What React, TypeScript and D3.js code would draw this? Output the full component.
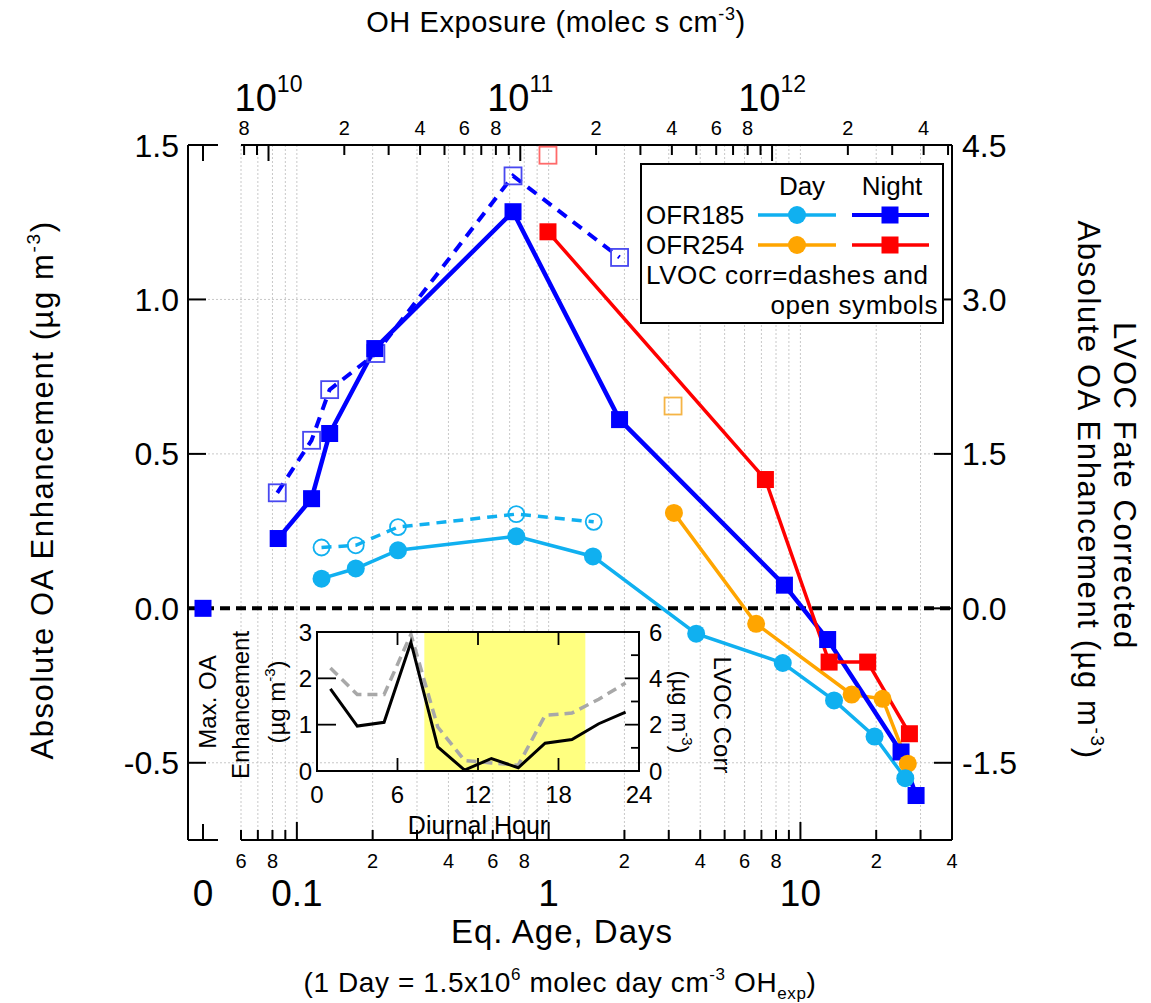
import React from "react";
import * as d3 from "d3";

const FONT = "Liberation Sans, Arial, Helvetica, sans-serif";

// 1 day of equivalent age in molec s cm^-3 (1.5e6 * 86400)
const DAY_EXP = 1.296e11;

// OFR185, night (solid squares)
const night185Days = [0.0843, 0.1144, 0.135, 0.204, 0.722, 1.913, 8.64, 12.83, 25.1, 28.8];
const night185 = [0.226, 0.355, 0.566, 0.841, 1.284, 0.611, 0.075, -0.101, -0.465, -0.606];
// OFR185, night, LVOC corrected (dashed, open squares)
const night185CorrDays = [0.0836, 0.1144, 0.135, 0.206, 0.722, 1.913];
const night185Corr = [0.374, 0.544, 0.708, 0.825, 1.4, 1.136];
// OFR185, day (solid circles)
const day185Days = [0.1253, 0.1714, 0.2522, 0.744, 1.5, 3.855, 8.51, 13.6, 19.7, 26.1];
const day185 = [0.096, 0.129, 0.188, 0.233, 0.168, -0.082, -0.177, -0.298, -0.415, -0.55];
// OFR185, day, LVOC corrected (dashed, open circles)
const day185CorrDays = [0.1253, 0.1714, 0.2522, 0.744, 1.51];
const day185Corr = [0.197, 0.204, 0.263, 0.305, 0.28];
// OFR254, day
const day254Days = [3.145, 6.67, 15.98, 21.2, 26.7];
const day254 = [0.309, -0.05, -0.279, -0.293, -0.503];
const day254CorrDays = [3.12];
const day254Corr = [0.655];
// OFR254, night
const night254Days = [0.994, 7.26, 13.0, 18.5, 27.1];
const night254 = [1.219, 0.417, -0.174, -0.174, -0.406];
const night254CorrDays = [0.994];
const night254Corr = [1.467];

// ambient point at age 0
const zeroValue = 0;

// left / right axis ticks
const leftTicks = [1.5, 1.0, 0.5, 0.0, -0.5];
const rightTicks = [4.5, 3.0, 1.5, 0.0, -1.5];

// inset: diurnal cycle
const hours = [1, 3, 5, 7, 9, 11, 13, 15, 17, 19, 21, 23];
const maxOA = [1.77, 0.97, 1.05, 2.78, 0.52, 0.02, 0.27, 0.07, 0.6, 0.68, 1.02, 1.27];
const lvocCorr = [4.45, 3.3, 3.3, 5.9, 1.9, 0.45, 0.35, 0.25, 2.4, 2.5, 3.1, 3.8];
const daylight = [8, 20];
const insetHourTicks = [0, 6, 12, 18, 24];
const insetLeftTicks = [0, 1, 2, 3];
const insetRightTicks = [0, 1, 2, 3, 4, 5, 6];

const C = {
  night185: "#0000ff",
  night185Open: "#4848f0",
  day185: "#10b0f0",
  day254: "#ffa500",
  day254Open: "#f5b445",
  night254: "#ff0000",
  night254Open: "#ff6a6a",
};

const left = 188;
const right = 952;
const top = 145;
const bottom = 840;
const zeroX = 203;

const x = d3.scaleLog().domain([0.06, 40]).range([241, right]);
const xTop = d3.scaleLog().domain([0.06 * DAY_EXP, 40 * DAY_EXP]).range([241, right]);
const y = d3.scaleLinear().domain([-0.75, 1.5]).range([bottom, top]);

const ix = d3.scaleLinear().domain([0, 24]).range([317, 639]);
const iy = d3.scaleLinear().domain([0, 3]).range([771, 632]);
const iy2 = d3.scaleLinear().domain([0, 6]).range([771, 632]);

const lead = (v: number) => Math.round(v / Math.pow(10, Math.floor(Math.log10(v) + 1e-9)));
const isMajor = (v: number) => lead(v) === 1;

function pts(xs: number[], ys: number[]) {
  return xs.map((d, i) => [x(d), y(ys[i])] as [number, number]);
}

const line = d3.line();

function Squares({ p, color, open }: { p: [number, number][]; color: string; open?: boolean }) {
  const s = 17;
  return (
    <g>
      {p.map((d, i) => (
        <rect
          key={i}
          x={d[0] - s / 2}
          y={d[1] - s / 2}
          width={s}
          height={s}
          fill={open ? "none" : color}
          stroke={color}
          strokeWidth={open ? 1.8 : 0}
        />
      ))}
    </g>
  );
}

function Circles({ p, color, open }: { p: [number, number][]; color: string; open?: boolean }) {
  return (
    <g>
      {p.map((d, i) => (
        <circle
          key={i}
          cx={d[0]}
          cy={d[1]}
          r={open ? 8 : 9}
          fill={open ? "none" : color}
          stroke={color}
          strokeWidth={open ? 1.8 : 0}
        />
      ))}
    </g>
  );
}

// rotated axis title with "(µg m^-3)" ending
function UnitText({ pre, size }: { pre: string; size: number }) {
  const s = Math.round(size * 0.62);
  const d = Math.round(size * 0.42);
  return (
    <>
      {pre}(µg m
      <tspan fontSize={s} dy={-d}>
        -3
      </tspan>
      <tspan dy={d}>)</tspan>
    </>
  );
}

export default function App() {
  const bottomTicks = x.ticks().filter(d => d >= 0.06 && d <= 40);
  const topTicks = xTop.ticks().filter(d => xTop(d) <= right + 0.5);

  const n185 = pts(night185Days, night185);
  const n185c = pts(night185CorrDays, night185Corr);
  const d185 = pts(day185Days, day185);
  const d185c = pts(day185CorrDays, day185Corr);
  const d254 = pts(day254Days, day254);
  const d254c = pts(day254CorrDays, day254Corr);
  const n254 = pts(night254Days, night254);
  const n254c = pts(night254CorrDays, night254Corr);

  const insetLine = d3
    .line<number>()
    .x((d, i) => ix(hours[i]))
    .y(d => iy(d));
  const insetLine2 = d3
    .line<number>()
    .x((d, i) => ix(hours[i]))
    .y(d => iy2(d));

  return (
    <svg
      width={1151}
      height={1003}
      style={{ position: "absolute", left: 0, top: 0, background: "white" }}
      fontFamily={FONT}
    >
      {/* grid */}
      <g stroke="#c8c8c8" strokeWidth={1} strokeDasharray="2,2">
        {bottomTicks.map((d, i) => (
          <line key={i} x1={x(d)} x2={x(d)} y1={top} y2={bottom} />
        ))}
        {[1.0, 0.5, -0.5].map((d, i) => (
          <line key={"h" + i} x1={left} x2={right} y1={y(d)} y2={y(d)} />
        ))}
      </g>

      {/* inset background: daylight hours */}
      <rect
        x={ix(daylight[0])}
        y={iy(3)}
        width={ix(daylight[1]) - ix(daylight[0])}
        height={iy(0) - iy(3)}
        fill="#ffff80"
      />

      {/* zero line */}
      <line
        x1={left}
        x2={right}
        y1={y(0)}
        y2={y(0)}
        stroke="black"
        strokeWidth={4}
        strokeDasharray="10,6"
      />

      {/* axes frame */}
      <g stroke="black" strokeWidth={2} fill="none">
        <line x1={left} x2={left} y1={top} y2={bottom} />
        <line x1={right} x2={right} y1={top} y2={bottom} />
        <line x1={241} x2={right} y1={bottom} y2={bottom} />
        <line x1={241} x2={right} y1={top} y2={top} />
        <line x1={left} x2={218} y1={bottom} y2={bottom} />
        <line x1={left} x2={218} y1={top} y2={top} />
        <line x1={zeroX} x2={zeroX} y1={bottom} y2={bottom - 16} />
        <line x1={zeroX} x2={zeroX} y1={top} y2={top + 16} />
        {leftTicks.map((d, i) => (
          <line key={"l" + i} x1={left} x2={left + 18} y1={y(d)} y2={y(d)} />
        ))}
        {rightTicks.map((d, i) => (
          <line key={"r" + i} x1={right} x2={right - 18} y1={y(d / 3)} y2={y(d / 3)} />
        ))}
        {bottomTicks.map((d, i) => (
          <line
            key={"b" + i}
            x1={x(d)}
            x2={x(d)}
            y1={bottom}
            y2={bottom - (isMajor(d) ? 18 : 10)}
          />
        ))}
        {topTicks.map((d, i) => (
          <line
            key={"t" + i}
            x1={xTop(d)}
            x2={xTop(d)}
            y1={top}
            y2={top + (isMajor(d) ? 16 : 10)}
          />
        ))}
      </g>

      {/* left tick labels */}
      <g fontSize={32} textAnchor="end">
        {leftTicks.map((d, i) => (
          <text key={i} x={179} y={y(d)} dy="0.36em">
            {d.toFixed(1)}
          </text>
        ))}
      </g>
      {/* right tick labels */}
      <g fontSize={32} textAnchor="start">
        {rightTicks.map((d, i) => (
          <text key={i} x={962} y={y(d / 3)} dy="0.36em">
            {d.toFixed(1)}
          </text>
        ))}
      </g>

      {/* bottom tick labels */}
      <g fontSize={20} textAnchor="middle">
        {bottomTicks
          .filter(d => !isMajor(d) && lead(d) % 2 === 0)
          .map((d, i) => (
            <text key={i} x={x(d)} y={861} dy="0.36em">
              {lead(d)}
            </text>
          ))}
      </g>
      <g fontSize={37} textAnchor="middle">
        {bottomTicks.filter(isMajor).map((d, i) => (
          <text key={i} x={x(d)} y={893} dy="0.36em">
            {d < 1 ? d.toFixed(1) : d}
          </text>
        ))}
        <text x={zeroX} y={893} dy="0.36em">
          0
        </text>
      </g>

      {/* top tick labels */}
      <g fontSize={20} textAnchor="middle">
        {topTicks
          .filter(d => !isMajor(d) && lead(d) % 2 === 0)
          .map((d, i) => (
            <text key={i} x={xTop(d)} y={128} dy="0.36em">
              {lead(d)}
            </text>
          ))}
      </g>
      <g fontSize={38} textAnchor="middle">
        {topTicks.filter(isMajor).map((d, i) => (
          <text key={i} x={xTop(d)} y={111}>
            10
            <tspan fontSize={23} dy={-19}>
              {Math.round(Math.log10(d))}
            </tspan>
          </text>
        ))}
      </g>

      {/* axis titles */}
      <text x={556} y={32} fontSize={29} textAnchor="middle" letterSpacing={0.6}>
        OH Exposure (molec s cm
        <tspan fontSize={18} dy={-12}>
          -3
        </tspan>
        <tspan dy={12}>)</tspan>
      </text>
      <text x={562} y={943} fontSize={33} textAnchor="middle" letterSpacing={1}>
        Eq. Age, Days
      </text>
      <text x={560} y={992} fontSize={28} textAnchor="middle" letterSpacing={0.6}>
        (1 Day = 1.5x10
        <tspan fontSize={17} dy={-12}>
          6
        </tspan>
        <tspan dy={12}> molec day cm</tspan>
        <tspan fontSize={17} dy={-12}>
          -3
        </tspan>
        <tspan dy={12}> OH</tspan>
        <tspan fontSize={17} dy={7}>
          exp
        </tspan>
        <tspan dy={-7}>)</tspan>
      </text>
      <text
        transform="translate(53,490) rotate(-90)"
        fontSize={31}
        textAnchor="middle"
        letterSpacing={1.6}
      >
        <UnitText pre="Absolute OA Enhancement " size={31} />
      </text>
      <text
        transform="translate(1114,486) rotate(90)"
        fontSize={31}
        textAnchor="middle"
        letterSpacing={1.6}
      >
        LVOC Fate Corrected
      </text>
      <text
        transform="translate(1078,490) rotate(90)"
        fontSize={31}
        textAnchor="middle"
        letterSpacing={1.6}
      >
        <UnitText pre="Absolute OA Enhancement " size={31} />
      </text>

      {/* inset */}
      <g>
        <path
          d={insetLine2(lvocCorr) || ""}
          fill="none"
          stroke="#a8a8a8"
          strokeWidth={3.5}
          strokeDasharray="10,6"
        />
        <path d={insetLine(maxOA) || ""} fill="none" stroke="black" strokeWidth={3} />
        <rect
          x={ix(0)}
          y={iy(3)}
          width={ix(24) - ix(0)}
          height={iy(0) - iy(3)}
          fill="none"
          stroke="black"
          strokeWidth={2}
        />
        <g stroke="black" strokeWidth={1.8}>
          {insetLeftTicks.map((d, i) => (
            <line key={"il" + i} x1={ix(0)} x2={ix(0) + 19} y1={iy(d)} y2={iy(d)} />
          ))}
          {insetRightTicks.map((d, i) => (
            <line
              key={"ir" + i}
              x1={ix(24)}
              x2={ix(24) - (d % 2 === 0 ? 14 : 8)}
              y1={iy2(d)}
              y2={iy2(d)}
            />
          ))}
          {insetHourTicks.map((d, i) => (
            <g key={"ih" + i}>
              <line x1={ix(d)} x2={ix(d)} y1={iy(0)} y2={iy(0) - 13} />
              <line x1={ix(d)} x2={ix(d)} y1={iy(3)} y2={iy(3) + 13} />
            </g>
          ))}
        </g>
        <g fontSize={24}>
          {insetLeftTicks.map((d, i) => (
            <text key={i} x={ix(0) - 5} y={iy(d)} dy="0.36em" textAnchor="end">
              {d}
            </text>
          ))}
          {insetRightTicks
            .filter(d => d % 2 === 0)
            .map((d, i) => (
              <text key={"r" + i} x={ix(24) + 10} y={iy2(d)} dy="0.36em" textAnchor="start">
                {d}
              </text>
            ))}
          {insetHourTicks.map((d, i) => (
            <text key={"h" + i} x={ix(d)} y={794} dy="0.36em" textAnchor="middle">
              {d}
            </text>
          ))}
        </g>
        <text x={478} y={834} fontSize={25} textAnchor="middle">
          Diurnal Hour
        </text>
        <g fontSize={24} textAnchor="middle">
          <text transform="translate(216,702) rotate(-90)">Max. OA</text>
          <text transform="translate(249,705) rotate(-90)">Enhancement</text>
          <text transform="translate(285,702) rotate(-90)">
            <UnitText pre="" size={24} />
          </text>
          <text transform="translate(714,715) rotate(90)">LVOC Corr</text>
          <text transform="translate(672,712) rotate(90)">
            <UnitText pre="" size={24} />
          </text>
        </g>
      </g>

      {/* series */}
      <path d={line(n185c) || ""} fill="none" stroke={C.night185} strokeWidth={4} strokeDasharray="11,8" />
      <path d={line(d185c) || ""} fill="none" stroke={C.day185} strokeWidth={3.5} strokeDasharray="10,7" />
      <path d={line(d185) || ""} fill="none" stroke={C.day185} strokeWidth={3.5} />
      <path d={line(d254) || ""} fill="none" stroke={C.day254} strokeWidth={3.5} />
      <path d={line(n185) || ""} fill="none" stroke={C.night185} strokeWidth={4.5} />
      <path d={line(n254) || ""} fill="none" stroke={C.night254} strokeWidth={3.5} />

      <Squares p={n185c} color={C.night185Open} open />
      <Squares p={d254c} color={C.day254Open} open />
      <Squares p={n254c} color={C.night254Open} open />
      <Circles p={d185c} color={C.day185} open />
      <Squares p={n185} color={C.night185} />
      <Squares p={n254} color={C.night254} />
      <Circles p={d254} color={C.day254} />
      <Circles p={d185} color={C.day185} />
      <Squares p={[[zeroX, y(zeroValue)]]} color={C.night185} />

      {/* legend */}
      <g>
        <rect x={641} y={164} width={302} height={159} fill="white" stroke="black" strokeWidth={2} />
        <g fontSize={26}>
          <text x={802} y={186} dy="0.36em" textAnchor="middle">
            Day
          </text>
          <text x={892} y={186} dy="0.36em" textAnchor="middle">
            Night
          </text>
          <text x={646} y={215} dy="0.36em">
            OFR185
          </text>
          <text x={646} y={245} dy="0.36em">
            OFR254
          </text>
          <text x={646} y={275} dy="0.36em" letterSpacing={0.6}>
            LVOC corr=dashes and
          </text>
          <text x={938} y={305} dy="0.36em" textAnchor="end" letterSpacing={0.6}>
            open symbols
          </text>
        </g>
        <line x1={758} x2={836} y1={215} y2={215} stroke={C.day185} strokeWidth={3.5} />
        <Circles p={[[797, 215]]} color={C.day185} />
        <line x1={852} x2={929} y1={215} y2={215} stroke={C.night185} strokeWidth={4} />
        <Squares p={[[890, 215]]} color={C.night185} />
        <line x1={758} x2={836} y1={245} y2={245} stroke={C.day254} strokeWidth={3.5} />
        <Circles p={[[797, 245]]} color={C.day254} />
        <line x1={852} x2={929} y1={245} y2={245} stroke={C.night254} strokeWidth={3.5} />
        <Squares p={[[890, 245]]} color={C.night254} />
      </g>
    </svg>
  );
}
